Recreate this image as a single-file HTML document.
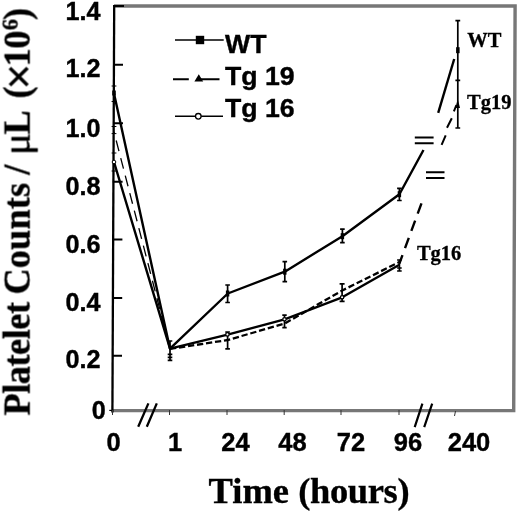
<!DOCTYPE html>
<html><head><meta charset="utf-8">
<style>
html,body{margin:0;padding:0;background:#fff;}
svg{display:block;}
.sans{font-family:"Liberation Sans",sans-serif;font-weight:bold;fill:#000;}
.serif{font-family:"Liberation Serif",serif;font-weight:bold;fill:#000;}
</style></head><body>
<svg width="520" height="513" viewBox="0 0 520 513">
<defs><filter id="soft" x="0" y="0" width="520" height="513" filterUnits="userSpaceOnUse"><feGaussianBlur stdDeviation="0.45"/></filter></defs>
<rect width="520" height="513" fill="#fff"/>
<g filter="url(#soft)">
<!-- gray frame -->
<g fill="none" stroke="#777" stroke-width="3.4">
<path d="M114,6 H515.1 L513.7,410.6 H112.5"/>
</g>
<!-- left axis -->
<g stroke="#000" stroke-width="2" fill="none">
<path d="M114.2,5 L112.4,412.5" stroke-width="2.3"/>
<path d="M113.2,6 H124 M113,64.7 H123 M113,123.2 H123 M112.8,181.7 H122.6 M112.5,239.4 H122.4 M112.2,297.9 H122.2 M112,355.8 H122"/>
<path d="M109.3,410.4 H113" stroke-width="1.2"/>
</g>
<!-- bottom ticks -->
<g stroke="#333" stroke-width="1" fill="none">
<path d="M112.5,410 V415 M169.5,410 V415 M227,410 V415 M284.2,410 V415 M341,410 V415 M399,410 V415 M455.5,411 L454.5,416"/>
</g>
<!-- axis breaks -->
<g stroke="#000" stroke-width="2" fill="none">
<path d="M138.2,426.8 L148.4,403.4 M146.8,426.8 L156.8,403.4" stroke-width="2.3"/>
<path d="M414.7,427.2 L422.4,403.6 M424.2,427.2 L432.2,403.6" stroke-width="2.2"/>
</g>
<!-- series -->
<g stroke="#000" stroke-width="2.4" fill="none" stroke-linejoin="round">
<path id="wt" d="M114,93.5 L170,348.7 L227.8,293.5 L284.8,271.7 L342.4,236.2 L399.4,194.2 L423.5,150"/>
<path d="M438.2,112.9 L454.2,59"/>
<path id="tg16" d="M114,162 L170,348.7 L227.6,334.6 L284.6,319.4 L342.2,297.3 L399.4,264.8"/>
</g>
<g stroke="#000" stroke-width="1.3" fill="none">
<path d="M114,132 L170,348.7" stroke-dasharray="11 7.1" stroke-dashoffset="9.3"/>
</g>
<g stroke="#000" stroke-width="2" fill="none">
<path d="M170,348.9 L227.8,340 L284.8,323.5 L342.2,290.5 L399.4,262" stroke-dasharray="6.3 2.8" stroke-width="2.3"/>
<path d="M399.4,263.5 L421.6,203" stroke-dasharray="11 7.4" stroke-dashoffset="2.1" stroke-width="2.4"/>
<path d="M441.6,144.8 L445.7,135.3 M447,127.7 L451.8,118.2 M453.9,111.4 L456.4,105"/>
</g>
<!-- break equals -->
<g stroke="#000" stroke-width="2" fill="none">
<path d="M414.8,137.5 H433.6 M414.8,143.2 H433.6"/>
<path d="M426,172.2 H444.5 M426,178 H444.5"/>
</g>
<!-- error bars -->
<g stroke="#000" stroke-width="1.7" fill="none">
<path d="M170,341 V360.4 M167.7,341 H172.3 M167.7,360.4 H172.3 M167.7,354.4 H172.3 M167.7,357.4 H172.3"/>
<path d="M227.6,285 V302.5 M225.3,285 H229.9 M225.3,302.5 H229.9"/>
<path d="M227.6,332 V348.9 M225.3,332 H229.9 M225.3,348.9 H229.9"/>
<path d="M284.8,261.6 V281.6 M282.5,261.6 H287.1 M282.5,281.6 H287.1"/>
<path d="M284.5,315.2 V327.6 M282.3,315.2 H286.7 M282.3,327.6 H286.7"/>
<path d="M342.4,229.1 V242.6 M340.1,229.1 H344.7 M340.1,242.6 H344.7"/>
<path d="M342.1,283.8 V301.3 M339.6,283.8 H344.6 M339.6,301.3 H344.6"/>
<path d="M399.4,188.4 V200.5 M397.1,188.4 H401.7 M397.1,200.5 H401.7"/>
<path d="M399.4,260 V271 M397.1,260 H401.7 M397.1,271 H401.7 M397.1,268 H401.7"/>
<path d="M457.8,20.6 V128 M455.4,20.6 H460.2 M455.4,80.4 H460.2 M455.4,128 H460.2"/>
</g>
<g fill="#fff" stroke="#000" stroke-width="1.3"><circle cx="227.4" cy="334.4" r="1.7"/><circle cx="284.5" cy="319.3" r="1.7"/><circle cx="342.1" cy="297.3" r="1.7"/></g>
<g fill="#000">
<rect x="225.9" y="290.5" width="3.4" height="6"/>
<rect x="283.1" y="268.7" width="3.4" height="6"/>
<rect x="340.7" y="233.2" width="3.4" height="6"/>
<rect x="397.7" y="191.2" width="3.4" height="6"/>
</g>
<g stroke="#000" stroke-width="1" fill="none"><path d="M111.6,86 H116.4 M111.6,101.5 H116.4 M111.6,126.5 H116.4 M111.6,133.6 H116.4 M111.6,153 H116.4 M111.6,171 H116.4"/></g>
<rect x="112.2" y="90.5" width="3.6" height="5" fill="#000"/>
<!-- markers -->
<rect x="456.1" y="47.2" width="3.5" height="6" fill="#000"/>
<path d="M457.7,99 L460,108 H455.4 Z" fill="#000"/>
<circle cx="114" cy="162" r="1.8" fill="#fff" stroke="#000" stroke-width="1"/>
<!-- legend -->
<g stroke="#000" stroke-width="1.6" fill="none">
<path d="M175,40 H223.7"/>
<path d="M173,79.3 H188.8 M201,79.3 H219.5" stroke-width="2"/>
<path d="M175,116.3 H223"/>
</g>
<rect x="195.8" y="35.8" width="8.4" height="8.4" fill="#000"/>
<path d="M198.8,74.2 L203.2,81.6 H194.4 Z" fill="#000"/>
<circle cx="198.3" cy="116.3" r="2.8" fill="#fff" stroke="#000" stroke-width="1.3"/>
<g class="sans" font-size="26.7" stroke="#000" stroke-width="0.4">
<text x="225" y="53.2">WT</text>
<text x="225" y="85.2">Tg 19</text>
<text x="225" y="116.8">Tg 16</text>
</g>
<!-- y tick labels -->
<g class="sans" font-size="25.2" text-anchor="end" stroke="#000" stroke-width="0.4">
<text x="100.6" y="19.6">1.4</text>
<text x="100.6" y="77.3">1.2</text>
<text x="100.6" y="136.5">1.0</text>
<text x="100.6" y="195">0.8</text>
<text x="100.6" y="253">0.6</text>
<text x="100.6" y="310.5">0.4</text>
<text x="100.6" y="368">0.2</text>
<text x="105.8" y="419.4">0</text>
</g>
<!-- x tick labels -->
<g class="sans" font-size="25.5" text-anchor="middle" stroke="#000" stroke-width="0.4">
<text x="113.5" y="450.5">0</text>
<text x="175" y="450.5">1</text>
<text x="235.4" y="450.5">24</text>
<text x="292.5" y="450.5">48</text>
<text x="351" y="450.5">72</text>
<text x="408" y="450.5">96</text>
<text x="469" y="450.5">240</text>
</g>
<!-- data labels -->
<g class="serif" font-size="20.5" stroke="#000" stroke-width="0.3">
<text x="467.3" y="46.9">WT</text>
<text x="467" y="108.7">Tg19</text>
<text x="416.9" y="260.1">Tg16</text>
</g>
<!-- titles -->
<text class="serif" stroke="#000" stroke-width="0.35" font-size="36.5" x="208.6" y="502.5">Time <tspan letter-spacing="-0.35">(hours)</tspan></text>
<g class="serif" font-size="37" stroke="#000" stroke-width="0.35" transform="translate(29.6,415.5) rotate(-90) scale(0.98,1)" id="ylab">
<text x="0.0" y="0" textLength="115.8" lengthAdjust="spacing">Platelet</text>
<text x="123.5" y="0" letter-spacing="0.15">Counts</text>
<text x="245.7" y="0">/</text>
<text transform="translate(265.8,0) scale(1.12,1)" font-weight="normal">μ</text>
<text x="286.7" y="0">L</text>
<text x="323.5" y="0">(</text>
<text x="333.0" y="3.6" font-family="Liberation Sans" font-weight="normal" font-size="44">×</text>
<text x="356.1" y="0">1</text>
<text x="374.2" y="0">0</text>
<text x="393.2" y="-12" font-size="23">6</text>
<text x="403.6" y="0">)</text>
</g>
</g>
</svg>
</body></html>
